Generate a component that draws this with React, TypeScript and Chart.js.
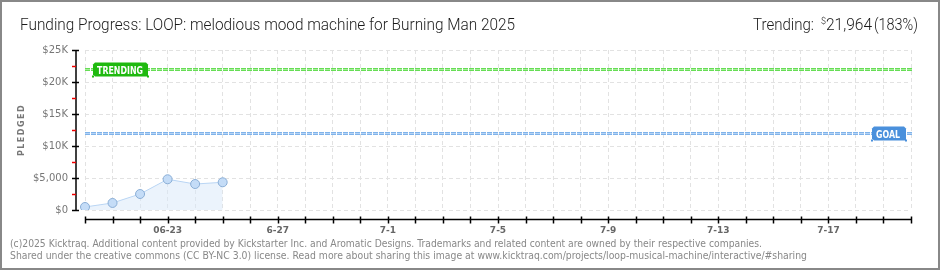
import React, { useEffect, useRef } from "react";
import { Chart, registerables } from "chart.js";
Chart.register(...registerables);

const CATEGORIES = [
  "6-20", "6-21", "6-22", "6-23", "6-24", "6-25", "6-26", "6-27", "6-28", "6-29", "6-30",
  "7-1", "7-2", "7-3", "7-4", "7-5", "7-6", "7-7", "7-8", "7-9", "7-10",
  "7-11", "7-12", "7-13", "7-14", "7-15", "7-16", "7-17", "7-18", "7-19", "7-20",
];
const TICK_AT = ["6-23", "6-27", "7-1", "7-5", "7-9", "7-13", "7-17"];
const TICK_LABELS = ["06-23", "6-27", "7-1", "7-5", "7-9", "7-13", "7-17"];
const PLEDGED = [470, 1100, 2500, 4800, 4060, 4330];
const GOAL = 12000;
const TRENDING = 21964;
const Y_MIN = 0;
const Y_MAX = 25000;
const Y_STEP = 5000;
const Y_MINOR = [2500, 7500, 12500, 17500, 22500];

const TITLE = "Funding Progress: LOOP: melodious mood machine for Burning Man 2025";
const FOOT1 =
  "(c)2025 Kicktraq. Additional content provided by Kickstarter Inc. and Aromatic Designs. Trademarks and related content are owned by their respective companies.";
const FOOT2 =
  "Shared under the creative commons (CC BY-NC 3.0) license. Read more about sharing this image at www.kicktraq.com/projects/loop-musical-machine/interactive/#sharing";

function fitText(
  ctx: CanvasRenderingContext2D,
  text: string,
  x: number,
  y: number,
  w: number,
  font: string,
  color: string,
  baseline: CanvasTextBaseline = "alphabetic"
) {
  ctx.save();
  ctx.font = font;
  ctx.textAlign = "left";
  ctx.textBaseline = baseline;
  const m = ctx.measureText(text).width;
  const s = w / m;
  ctx.translate(x, y);
  ctx.scale(s, 1);
  ctx.fillStyle = color;
  ctx.fillText(text, 0, 0);
  ctx.restore();
}

function dashedLevel(
  ctx: CanvasRenderingContext2D,
  x0: number,
  x1: number,
  y: number,
  outer: string,
  inner: string
) {
  ctx.save();
  ctx.setLineDash([5, 1]);
  ctx.lineWidth = 3;
  ctx.strokeStyle = outer;
  ctx.beginPath();
  ctx.moveTo(x0, y);
  ctx.lineTo(x1, y);
  ctx.stroke();
  ctx.lineWidth = 1;
  ctx.strokeStyle = inner;
  ctx.beginPath();
  ctx.moveTo(x0, y);
  ctx.lineTo(x1, y);
  ctx.stroke();
  ctx.restore();
}

function tagBox(
  ctx: CanvasRenderingContext2D,
  x: number,
  yc: number,
  w: number,
  textW: number,
  text: string,
  fill: string
) {
  ctx.save();
  ctx.fillStyle = fill;
  const h = 14;
  const y = yc - h / 2;
  ctx.beginPath();
  ctx.moveTo(x + 2, y);
  ctx.lineTo(x + w - 2, y);
  ctx.lineTo(x + w, y + 2);
  ctx.lineTo(x + w, y + h);
  ctx.lineTo(x + 2, y + h);
  ctx.lineTo(x, y + h - 2);
  ctx.lineTo(x, y + 2);
  ctx.closePath();
  ctx.fill();
  ctx.fillRect(x - 1, y + h - 1, 2, 2);
  ctx.fillRect(x + w - 1, y + h - 1, 2, 2);
  ctx.restore();
  fitText(ctx, text, x + 4, yc + 4, textW, "bold 10px 'DejaVu Sans'", "#ffffff");
}

const overlay = {
  id: "kicktraqOverlay",
  beforeDatasetsDraw(chart: any) {
    const ctx = chart.ctx as CanvasRenderingContext2D;
    const ca = chart.chartArea;
    const y = chart.scales.y;
    const yT = Math.round(y.getPixelForValue(TRENDING)) + 0.5;
    const yG = Math.round(y.getPixelForValue(GOAL)) + 0.5;
    dashedLevel(ctx, ca.left, ca.right + 1, yT, "#66dd55", "#a6ee99");
    dashedLevel(ctx, ca.left, ca.right + 1, yG, "#7fb3ea", "#b5d3f5");
  },
  afterDraw(chart: any) {
    const ctx = chart.ctx as CanvasRenderingContext2D;
    const ca = chart.chartArea;
    const x = chart.scales.x;
    const y = chart.scales.y;
    const W = chart.width;
    const H = chart.height;

    // level tags
    const yT = Math.round(y.getPixelForValue(TRENDING)) + 0.5;
    const yG = Math.round(y.getPixelForValue(GOAL)) + 0.5;
    tagBox(ctx, ca.left + 8, yT, 55, 46, "TRENDING", "#1fb90f");
    tagBox(ctx, ca.right - 39, yG, 34, 24, "GOAL", "#4a90dc");

    // y axis line + ticks
    ctx.save();
    const ax = ca.left - 9;
    ctx.strokeStyle = "#000000";
    ctx.lineWidth = 1.5;
    ctx.beginPath();
    ctx.moveTo(ax, ca.top);
    ctx.lineTo(ax, ca.bottom + 1);
    ctx.stroke();
    for (let v = Y_MIN; v <= Y_MAX; v += Y_STEP) {
      const py = Math.round(y.getPixelForValue(v)) + 0.5;
      ctx.beginPath();
      ctx.moveTo(ax - 4, py);
      ctx.lineTo(ax + 3, py);
      ctx.stroke();
    }
    ctx.strokeStyle = "#ee0000";
    for (const v of Y_MINOR) {
      const py = Math.round(y.getPixelForValue(v)) + 0.5;
      ctx.beginPath();
      ctx.moveTo(ax - 4, py);
      ctx.lineTo(ax, py);
      ctx.stroke();
    }

    // x axis line + ticks
    const bx = ca.bottom + 9.5;
    ctx.strokeStyle = "#000000";
    ctx.lineWidth = 1.5;
    ctx.beginPath();
    ctx.moveTo(ca.left, bx);
    ctx.lineTo(ca.right + 1, bx);
    ctx.stroke();
    for (let i = 0; i < CATEGORIES.length; i++) {
      const px = Math.round(x.getPixelForValue(i)) + 0.5;
      ctx.beginPath();
      ctx.moveTo(px, bx - 3);
      ctx.lineTo(px, bx + 4);
      ctx.stroke();
    }
    ctx.restore();

    // y axis title
    ctx.save();
    ctx.translate(22, 130);
    ctx.rotate(-Math.PI / 2);
    ctx.font = "bold 8px 'DejaVu Sans'";
    (ctx as any).letterSpacing = "1.5px";
    ctx.fillStyle = "#777777";
    ctx.textAlign = "center";
    ctx.textBaseline = "middle";
    ctx.fillText("PLEDGED", 0, 0);
    ctx.restore();

    // title and header
    fitText(ctx, TITLE, 20, 30, 495, "300 16px Roboto", "#1a1a1a");
    fitText(ctx, "Trending:", 753, 30, 61, "300 16px Roboto", "#1a1a1a");
    fitText(ctx, "$", 821, 24, 5, "300 9px Roboto", "#1a1a1a");
    fitText(ctx, "21,964", 826, 30, 46, "300 16px Roboto", "#1a1a1a");
    fitText(ctx, "(183%)", 874, 30, 44, "300 16px Roboto", "#1a1a1a");

    // footer
    fitText(ctx, FOOT1, 10, 247, 752, "10px 'DejaVu Sans'", "#888888");
    fitText(ctx, FOOT2, 10, 259, 797, "10px 'DejaVu Sans'", "#888888");

    // frame
    ctx.save();
    ctx.strokeStyle = "#888888";
    ctx.lineWidth = 2;
    ctx.strokeRect(1, 1, W - 2, H - 2);
    ctx.restore();
  },
};

export default function App() {
  const ref = useRef<HTMLCanvasElement | null>(null);

  useEffect(() => {
    document.body.style.margin = "0";
    const canvas = ref.current;
    if (!canvas) return;
    const chart = new Chart(canvas, {
      type: "line",
      data: {
        labels: CATEGORIES,
        datasets: [
          {
            data: PLEDGED,
            borderColor: "#b9d5f4",
            borderWidth: 1,
            backgroundColor: "rgba(215,232,250,0.5)",
            fill: "origin",
            tension: 0,
            pointRadius: 4.5,
            pointBackgroundColor: "#c4dcf7",
            pointBorderColor: "#8aaed6",
            pointBorderWidth: 1,
          },
        ],
      },
      options: {
        animation: false,
        responsive: false,
        maintainAspectRatio: false,
        devicePixelRatio: 1,
        layout: { padding: { left: 0, right: 29, top: 50, bottom: 0 } },
        plugins: {
          legend: { display: false },
          title: { display: false },
          tooltip: { enabled: false },
        },
        scales: {
          x: {
            type: "category",
            offset: false,
            afterFit: (s: any) => {
              s.height = 60;
            },
            grid: {
              display: true,
              drawTicks: false,
              color: "#e2e2e2",
              lineWidth: 1,
            },
            border: { display: false, dash: [4, 3] },
            ticks: {
              autoSkip: false,
              maxRotation: 0,
              minRotation: 0,
              padding: 15,
              color: "#666666",
              font: { family: "'DejaVu Sans'", size: 9, weight: "bold" },
              callback: (_v: any, i: number) => {
                const k = TICK_AT.indexOf(CATEGORIES[i]);
                return k >= 0 ? TICK_LABELS[k] : "";
              },
            },
          },
          y: {
            min: Y_MIN,
            max: Y_MAX,
            afterFit: (s: any) => {
              s.width = 85;
            },
            grid: {
              display: true,
              drawTicks: false,
              color: "#e2e2e2",
              lineWidth: 1,
            },
            border: { display: false, dash: [4, 3] },
            ticks: {
              stepSize: Y_STEP,
              padding: 17,
              color: "#777777",
              font: { family: "'DejaVu Sans'", size: 10 },
              callback: (v: any) => {
                const n = Number(v);
                if (n >= 10000) return "$" + n / 1000 + "K";
                return "$" + n.toLocaleString("en-US");
              },
            },
          },
        },
      },
      plugins: [overlay],
    });
    return () => chart.destroy();
  }, []);

  return (
    <div style={{ position: "absolute", left: 0, top: 0, width: 940, height: 270, background: "#fff" }}>
      <canvas ref={ref} width={940} height={270} style={{ display: "block", width: 940, height: 270 }} />
    </div>
  );
}
